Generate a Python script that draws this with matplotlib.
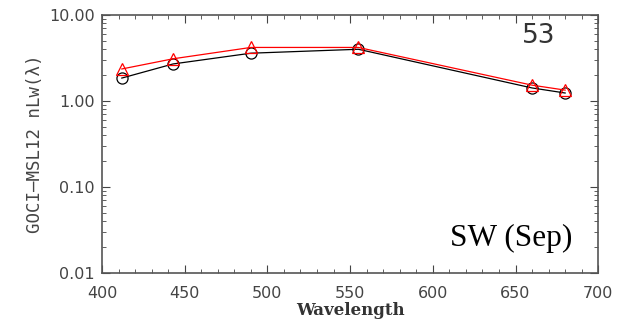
import matplotlib
matplotlib.use("Agg")
import matplotlib.pyplot as plt
from matplotlib.ticker import FixedLocator, MultipleLocator, NullFormatter

wavelengths = [412, 443, 490, 555, 660, 680]
goci_black = [1.85, 2.7, 3.6, 4.0, 1.42, 1.24]
msl_red = [2.36, 3.1, 4.2, 4.2, 1.53, 1.34]
ytick_vals = [0.01, 0.1, 1.0, 10.0]
ytick_labels = ["0.01", "0.10", "1.00", "10.00"]
xtick_vals = [400, 450, 500, 550, 600, 650, 700]

fig = plt.figure(figsize=(6.18, 3.27), dpi=100)
ax = fig.add_axes([0.165, 0.165, 0.803, 0.789])

ax.plot(wavelengths, goci_black, color="black", lw=0.9, marker="o", ms=8,
        mfc="none", mec="black", mew=0.9)
ax.plot(wavelengths, msl_red, color="red", lw=0.9, marker="^", ms=8,
        mfc="none", mec="red", mew=0.9)

ax.set_yscale("log")
ax.set_xlim(400, 700)
ax.set_ylim(0.01, 10.0)
ax.yaxis.set_major_locator(FixedLocator(ytick_vals))
ax.set_yticklabels(ytick_labels)
ax.set_xticks(xtick_vals)
ax.xaxis.set_minor_locator(MultipleLocator(10))
ax.yaxis.set_minor_formatter(NullFormatter())

ax.tick_params(which="both", direction="in", top=True, right=True, colors="#444444")
ax.tick_params(which="major", length=6, width=0.8, labelsize=11.5)
ax.tick_params(axis="x", which="major", pad=9)
ax.tick_params(axis="y", which="major", pad=5)
ax.tick_params(which="minor", length=3, width=0.6)
for s in ax.spines.values():
    s.set_color("#555555")
    s.set_linewidth(1.2)

ax.set_xlabel("Wavelength", fontsize=12, family="DejaVu Serif", fontweight="bold",
              color="#333333", labelpad=1)
ax.set_ylabel("GOCI\u2013MSL12 nLw(\u03bb)", fontsize=12.5, family="DejaVu Sans Mono",
              color="#444444", labelpad=4)

ax.text(0.88, 0.92, "53", transform=ax.transAxes, fontsize=19, ha="center",
        va="center", color="#333333")
ax.text(0.948, 0.135, "SW (Sep)", transform=ax.transAxes, fontsize=22.5, ha="right",
        va="center", family="Liberation Serif", color="black")

fig.savefig("out.png", dpi=100)
